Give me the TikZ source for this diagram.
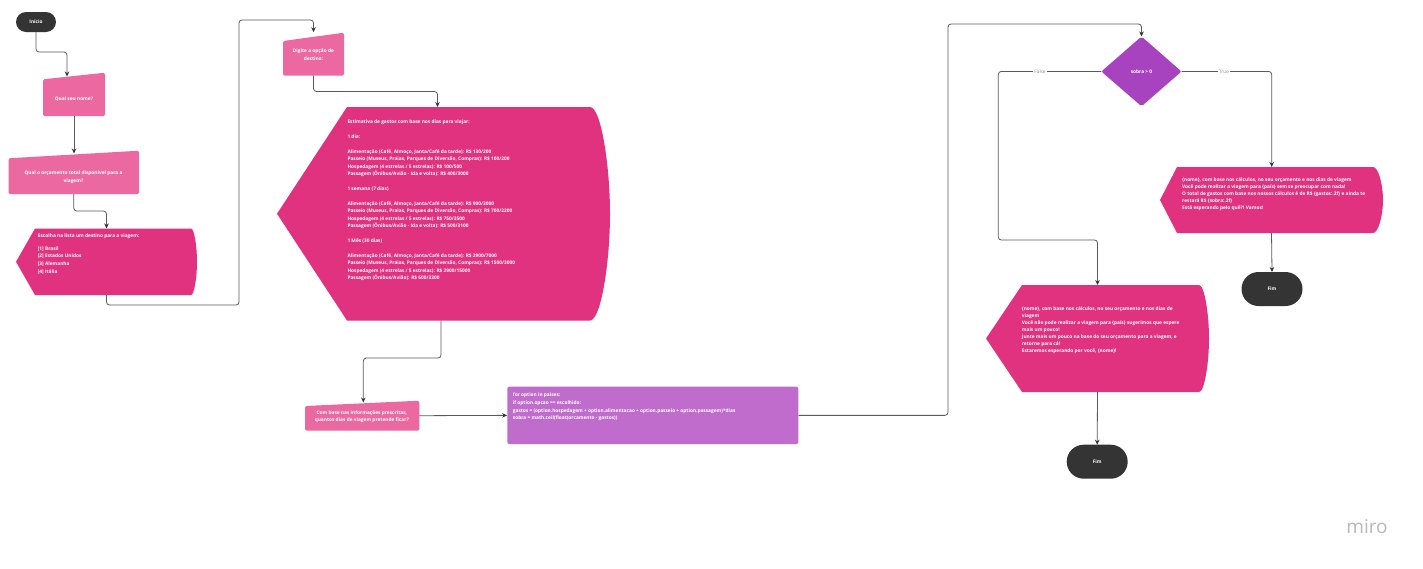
\documentclass[tikz,border=0pt]{standalone}
\usepackage{fontspec}
\setmainfont{Open Sans}
\usetikzlibrary{arrows.meta,calc}
\definecolor{lpink}{HTML}{EB68A1}
\definecolor{dpink}{HTML}{E0327E}
\definecolor{lpurple}{HTML}{C06CCC}
\definecolor{dpurple}{HTML}{A743BF}
\definecolor{term}{HTML}{343434}
\definecolor{conn}{HTML}{5A5A5A}
\newcommand\dispshape[6]{%
 \fill[dpink] (#1,{(#2+#4)/2}) -- ({#1+#5},#2) -- ({#3-#6},#2)
   .. controls ({#3-0.448*#6},#2) and (#3,{#2+0.276*(#4-#2)}) .. (#3,{(#2+#4)/2})
   .. controls (#3,{#4-0.276*(#4-#2)}) and ({#3-0.448*#6},#4) .. ({#3-#6},#4)
   -- ({#1+#5},#4) -- cycle;}
\begin{document}
\begin{tikzpicture}[x=1pt,y=-1pt,
  anc/.style={draw=none,fill=none,inner sep=0pt,outer sep=0pt},
  termnode/.style={fill=term,text=white,inner sep=0pt,outer sep=0pt,font=\fontsize{4.8}{5.5}\selectfont\bfseries},
  txt/.style={text=white,font=\fontsize{4.8}{7.45}\selectfont\bfseries,inner sep=0pt,align=left,anchor=north west},
  ctxt/.style={text=white,font=\fontsize{4.8}{7.5}\selectfont\bfseries,inner sep=0pt,align=center},
  link/.style={draw=conn,line width=0.8pt,rounded corners=3pt,-{Stealth[length=5pt,width=4.5pt,color=term]}},
  lbl/.style={fill=white,text=black!45,font=\fontsize{4.7}{5}\selectfont,inner sep=1.5pt}
]
\useasboundingbox[fill=white] (0,0) rectangle (1423,568);

% ---------- terminals ----------
\node[termnode,minimum width=40pt,minimum height=20pt,rounded corners=10pt] (inicio) at (36,22) {Início};
\node[termnode,minimum width=61pt,minimum height=34pt,rounded corners=17pt] (fim1) at (1272,289) {Fim};
\node[termnode,minimum width=61pt,minimum height=34pt,rounded corners=17pt] (fim2) at (1097.2,461.7) {Fim};

% ---------- manual inputs ----------
\fill[lpink,rounded corners=1.5pt] (43,79.3) -- (105,72.7) -- (105,116) -- (43,116) -- cycle;
\node[anc,minimum width=62pt,minimum height=43.3pt] (nome) at (74,94.35) {};
\node[ctxt] (nome-t) at (74,99) {Qual seu nome?};

\fill[lpink,rounded corners=1.5pt] (8.5,158.3) -- (139,150.7) -- (139,194) -- (8.5,194) -- cycle;
\node[anc,minimum width=130.5pt,minimum height=43.3pt] (orc) at (73.75,172.35) {};
\node[ctxt] (orc-t) at (73.5,177.3) {Qual o orçamento total disponível para a\\viagem?};

\fill[lpink,rounded corners=1.5pt] (283,41) -- (344,32.7) -- (344,75.7) -- (283,75.7) -- cycle;
\node[anc,minimum width=61pt,minimum height=43pt] (digite) at (313.5,54.2) {};
\node[ctxt] (digite-t) at (313.4,54.7) {Digite a opção de\\destino:};

\fill[lpink,rounded corners=1.5pt] (305,406) -- (419.3,400.7) -- (419.3,430.7) -- (305,430.7) -- cycle;
\node[anc,minimum width=114.3pt,minimum height=30pt] (dias) at (362.15,415.7) {};
\node[ctxt] (dias-t) at (361.8,416.7) {Com base nas informações prescritas,\\quantos dias de viagem pretende ficar?};

% ---------- displays ----------
\dispshape{16}{228.5}{197}{295}{19}{6}
\node[anc,minimum width=181pt,minimum height=66.5pt] (escolha) at (106.5,261.75) {};
\node[txt,font=\fontsize{4.8}{7.7}\selectfont\bfseries] (escolha-t) at (37.7,233.6) {Escolha na lista um destino para a viagem:\\[5pt]
\relax[1] Brasil\\ \relax[2] Estados Unidos\\ \relax[3] Alemanha\\ \relax[4] Itália};

\dispshape{277}{107}{610}{320.5}{70}{20}
\node[anc,minimum width=333pt,minimum height=213.5pt] (big) at (443.5,213.75) {};
\node[txt,font=\fontsize{4.8}{7.43}\selectfont\bfseries] (big-t) at (347.3,119.6) {Estimativa de gastos com base nos dias para viajar:\\ ~\\
1 dia:\\ ~\\
Alimentação (Café, Almoço, Janta/Café da tarde): R\$ 130/200\\
Passeio (Museus, Praias, Parques de Diversão, Compras): R\$ 100/200\\
Hospedagem (4 estrelas / 5 estrelas): R\$ 100/500\\
Passagem (Ônibus/Avião - Ida e volta): R\$ 400/3000\\ ~\\
1 semana (7 dias)\\ ~\\
Alimentação (Café, Almoço, Janta/Café da tarde): R\$ 900/3000\\
Passeio (Museus, Praias, Parques de Diversão, Compras): R\$ 700/2200\\
Hospedagem (4 estrelas / 5 estrelas): R\$ 750/3500\\
Passagem (Ônibus/Avião - Ida e volta): R\$ 500/3100\\ ~\\
1 Mês (30 dias)\\ ~\\
Alimentação (Café, Almoço, Janta/Café da tarde): R\$ 2900/7000\\
Passeio (Museus, Praias, Parques de Diversão, Compras): R\$ 1500/3000\\
Hospedagem (4 estrelas / 5 estrelas): R\$ 2900/15000\\
Passagem (Ônibus/Avião): R\$ 600/3300};

\dispshape{1160}{167}{1383}{233}{17}{10}
\node[anc,minimum width=223pt,minimum height=66pt] (ok) at (1271.5,200) {};
\node[txt,font=\fontsize{4.8}{6.8}\selectfont\bfseries] (ok-t) at (1182,178) {\{nome\}, com base nos cálculos, no seu orçamento e nos dias de viagem\\
Você pode realizar a viagem para \{país\} sem se preocupar com nada!\\
O total de gastos com base nos nossos cálculos é de R\$ \{gastos:.2f\} e ainda te\\
restará R\$ \{sobra:.2f\}\\
Está esperando pelo quê?! Vamos!};

\dispshape{986}{285}{1209}{392}{36}{10}
\node[anc,minimum width=223pt,minimum height=107pt] (nok) at (1097.5,338.5) {};
\node[txt,font=\fontsize{4.8}{7}\selectfont\bfseries] (nok-t) at (1021.7,306.3) {\{nome\}, com base nos cálculos, no seu orçamento e nos dias de\\
viagem\\
Você não pode realizar a viagem para \{país\} sugerimos que espere\\
mais um pouco!\\
Junte mais um pouco na base do seu orçamento para a viagem, e\\
retorne para cá!\\
Estaremos esperando por você, \{nome\}!};

% ---------- process ----------
\node[fill=lpurple,rounded corners=2pt,minimum width=291pt,minimum height=57.3pt,inner sep=0pt] (code) at (652.8,415.35) {};
\node[txt,font=\fontsize{4.8}{7.7}\selectfont\bfseries] (code-t) at (512.7,393) {for option in paises:\\
if option.opcao == escolhido:\\
gastos = (option.hospedagem + option.alimentacao + option.passeio + option.passagem)*dias\\
sobra = math.ceil(float(orcamento - gastos))};

% ---------- decision ----------
\fill[dpurple,rounded corners=2pt] (1141.5,36.5) -- (1181.5,71.5) -- (1141.5,106.3) -- (1101.3,71.5) -- cycle;
\node[anc,minimum width=80.2pt,minimum height=69.8pt] (dec) at (1141.5,71.4) {};
\node[ctxt] (dec-t) at (1141.5,71.5) {sobra > 0};

% ---------- connector end points ----------
\coordinate (nome-in) at (67,76.5);
\coordinate (orc-in) at (74,153.5);
\coordinate (big-in) at (437.5,107);
\coordinate (big-out) at (441,320.5);
\coordinate (dias-in) at (363.3,402.5);
\coordinate (ok-in) at (1271.7,167);

% ---------- connectors ----------
\draw[link] (inicio.south) -- (36,52) -- (67,52) -- (nome-in);
\draw[link] (nome.south) -- (orc-in);
\draw[link] (orc.south) -- (73.75,211) -- (106.5,211) -- (escolha.north);
\draw[link] (escolha.south) -- (106.5,305) -- (239,305) -- (239,20) -- (313.5,20) -- ($(digite.north)+(0,-0.5)$);
\draw[link] (digite.south) -- (313.5,91.5) -- (437.5,91.5) -- (big-in);
\draw[link] (big-out) -- (441,358) -- (363.3,358) -- (dias-in);
\draw[link] (dias.east) -- (code.west);
\draw[link] (code.east) -- (948,415.35) -- (948,24) -- (1141.5,24) -- (dec.north);
\draw[link] (dec.west) -- (998.3,71.4) -- (998.3,240) -- (1097.5,240) -- (nok.north);
\draw[link] (dec.east) -- (1271.7,71.4) -- (ok-in);
\draw[link] (ok.south) -- (fim1.north);
\draw[link] (nok.south) -- (fim2.north);

\node[lbl] (false-l) at (1040,71.4) {False};
\node[lbl] (true-l) at (1224,71.4) {True};

% ---------- logo ----------
\node[text=black!28,font=\fontsize{19}{19}\selectfont,inner sep=0pt] (miro) at (1367,527) {miro};
\end{tikzpicture}
\end{document}
